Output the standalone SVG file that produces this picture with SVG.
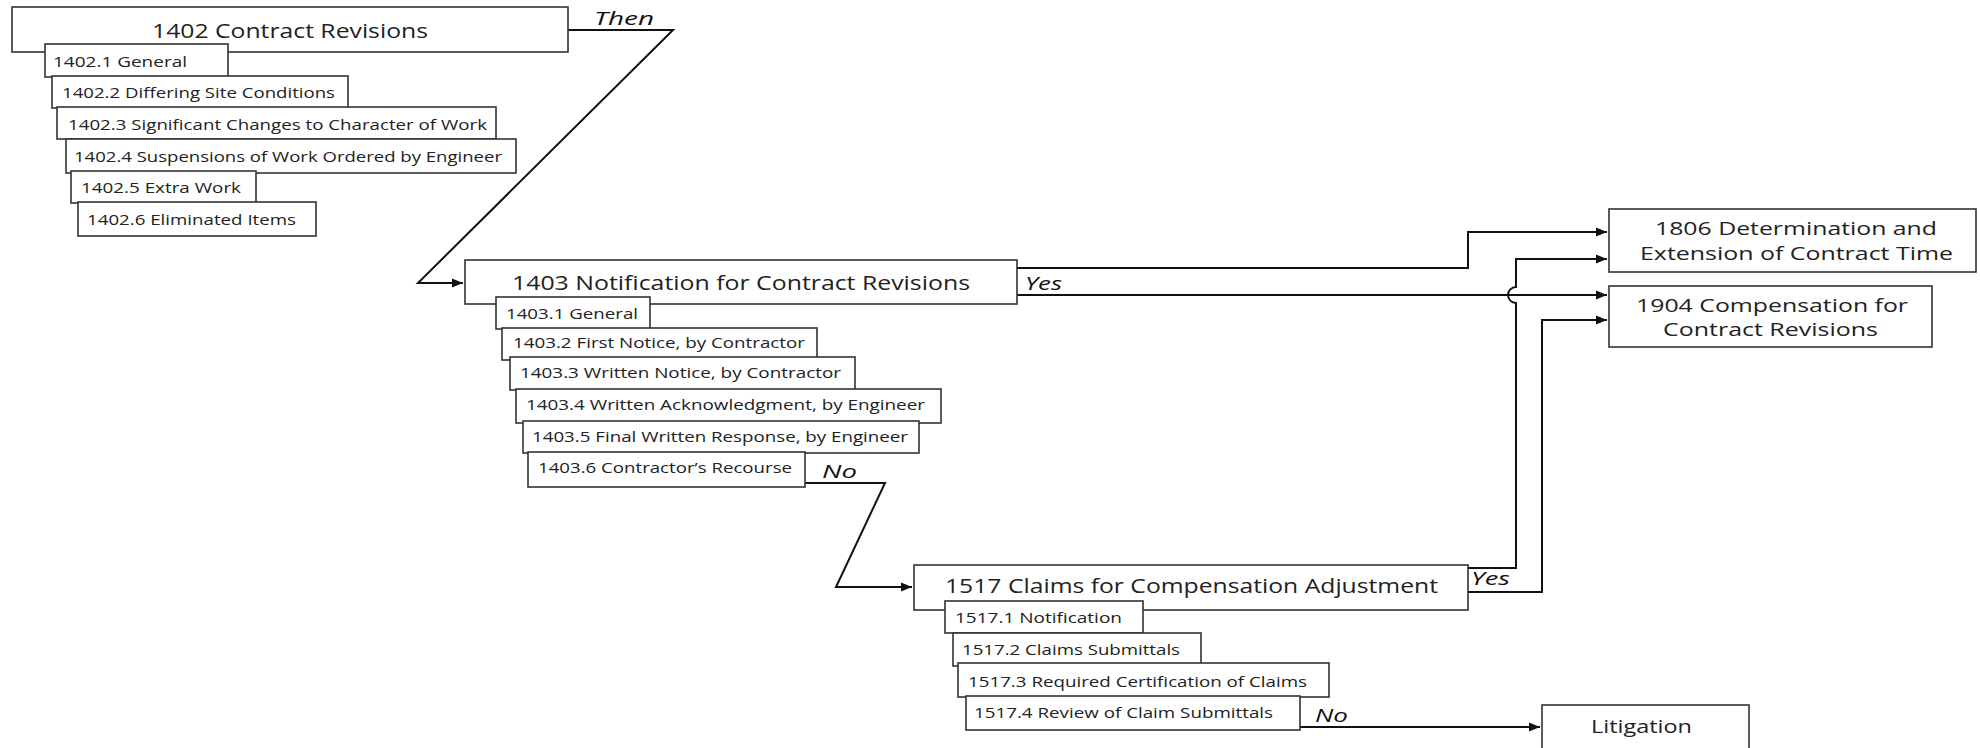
<svg xmlns="http://www.w3.org/2000/svg" width="1980" height="748" viewBox="0 0 1980 748">
<style>
.box{fill:#fff;stroke:#333;stroke-width:1.6}
.t{font-family:"Open Sans","Liberation Sans",sans-serif;fill:#222}
.main{font-size:20px}
.sub{font-size:15px}
.side{font-size:19px}
.lbl{font-family:"Open Sans","Liberation Sans",sans-serif;font-size:19px;font-style:italic;fill:#111}
.c{fill:none;stroke:#111;stroke-width:2;stroke-linejoin:miter}
</style>
<defs>
<marker id="ah" markerUnits="userSpaceOnUse" markerWidth="12" markerHeight="10" refX="11" refY="5" orient="auto">
<path d="M0,0.5 L11,5 L0,9.5 Z" fill="#111"/>
</marker>
</defs>
<rect width="1980" height="748" fill="#fff"/>
<g id="connectors">
<path class="c" d="M568,30 H673 L418,283 H463" marker-end="url(#ah)"/>
<path class="c" d="M1017,268 H1468 V232 H1607" marker-end="url(#ah)"/>
<path class="c" d="M1017,295 H1607" marker-end="url(#ah)"/>
<path class="c" d="M1468,568 H1516 V303 A8,8 0 0 1 1516,287 V259 H1607" marker-end="url(#ah)"/>
<path class="c" d="M1468,592 H1542 V320 H1607" marker-end="url(#ah)"/>
<path class="c" d="M805,483 H885 L836,587 H912" marker-end="url(#ah)"/>
<path class="c" d="M1300,727 H1540" marker-end="url(#ah)"/>
<text class="lbl" x="594" y="25" textLength="60" lengthAdjust="spacingAndGlyphs">Then</text>
<text class="lbl" x="1025" y="290" textLength="37" lengthAdjust="spacingAndGlyphs">Yes</text>
<text class="lbl" x="1471" y="585" textLength="39" lengthAdjust="spacingAndGlyphs">Yes</text>
<text class="lbl" x="822" y="478" textLength="35" lengthAdjust="spacingAndGlyphs">No</text>
<text class="lbl" x="1315" y="722" textLength="33" lengthAdjust="spacingAndGlyphs">No</text>
</g>
<g id="n1402">
<rect class="box" x="12" y="7" width="556" height="45"/>
<text class="t main" x="152" y="38" textLength="276" lengthAdjust="spacingAndGlyphs">1402 Contract Revisions</text>
</g>
<g id="n1402_1"><rect class="box" x="45" y="44" width="183" height="33"/><text class="t sub" x="53" y="67" textLength="134" lengthAdjust="spacingAndGlyphs">1402.1 General</text></g>
<g id="n1402_2"><rect class="box" x="52" y="76" width="296" height="32"/><text class="t sub" x="62" y="98" textLength="273" lengthAdjust="spacingAndGlyphs">1402.2 Differing Site Conditions</text></g>
<g id="n1402_3"><rect class="box" x="57" y="107" width="439" height="32"/><text class="t sub" x="68" y="130" textLength="419" lengthAdjust="spacingAndGlyphs">1402.3 Significant Changes to Character of Work</text></g>
<g id="n1402_4"><rect class="box" x="66" y="139" width="450" height="34"/><text class="t sub" x="74" y="162" textLength="428" lengthAdjust="spacingAndGlyphs">1402.4 Suspensions of Work Ordered by Engineer</text></g>
<g id="n1402_5"><rect class="box" x="71" y="171" width="185" height="32"/><text class="t sub" x="81" y="193" textLength="160" lengthAdjust="spacingAndGlyphs">1402.5 Extra Work</text></g>
<g id="n1402_6"><rect class="box" x="78" y="202" width="238" height="34"/><text class="t sub" x="87" y="225" textLength="209" lengthAdjust="spacingAndGlyphs">1402.6 Eliminated Items</text></g>
<g id="n1403">
<rect class="box" x="465" y="260" width="552" height="44"/>
<text class="t main" x="512" y="290" textLength="458" lengthAdjust="spacingAndGlyphs">1403 Notification for Contract Revisions</text>
</g>
<g id="n1403_1"><rect class="box" x="496" y="297" width="154" height="32"/><text class="t sub" x="506" y="319" textLength="132" lengthAdjust="spacingAndGlyphs">1403.1 General</text></g>
<g id="n1403_2"><rect class="box" x="502" y="328" width="315" height="32"/><text class="t sub" x="513" y="348" textLength="292" lengthAdjust="spacingAndGlyphs">1403.2 First Notice, by Contractor</text></g>
<g id="n1403_3"><rect class="box" x="510" y="357" width="345" height="33"/><text class="t sub" x="520" y="378" textLength="321" lengthAdjust="spacingAndGlyphs">1403.3 Written Notice, by Contractor</text></g>
<g id="n1403_4"><rect class="box" x="516" y="389" width="425" height="34"/><text class="t sub" x="526" y="410" textLength="399" lengthAdjust="spacingAndGlyphs">1403.4 Written Acknowledgment, by Engineer</text></g>
<g id="n1403_5"><rect class="box" x="523" y="421" width="396" height="32"/><text class="t sub" x="532" y="442" textLength="376" lengthAdjust="spacingAndGlyphs">1403.5 Final Written Response, by Engineer</text></g>
<g id="n1403_6"><rect class="box" x="528" y="452" width="277" height="35"/><text class="t sub" x="538" y="473" textLength="254" lengthAdjust="spacingAndGlyphs">1403.6 Contractor’s Recourse</text></g>
<g id="n1517">
<rect class="box" x="914" y="565" width="554" height="45"/>
<text class="t main" x="945" y="593" textLength="493" lengthAdjust="spacingAndGlyphs">1517 Claims for Compensation Adjustment</text>
</g>
<g id="n1517_1"><rect class="box" x="945" y="601" width="198" height="32"/><text class="t sub" x="955" y="623" textLength="167" lengthAdjust="spacingAndGlyphs">1517.1 Notification</text></g>
<g id="n1517_2"><rect class="box" x="953" y="633" width="248" height="33"/><text class="t sub" x="962" y="655" textLength="218" lengthAdjust="spacingAndGlyphs">1517.2 Claims Submittals</text></g>
<g id="n1517_3"><rect class="box" x="958" y="663" width="371" height="34"/><text class="t sub" x="968" y="687" textLength="339" lengthAdjust="spacingAndGlyphs">1517.3 Required Certification of Claims</text></g>
<g id="n1517_4"><rect class="box" x="966" y="696" width="334" height="34"/><text class="t sub" x="974" y="718" textLength="299" lengthAdjust="spacingAndGlyphs">1517.4 Review of Claim Submittals</text></g>
<g id="n1806">
<rect class="box" x="1609" y="209" width="367" height="63"/>
<text class="t side" x="1655" y="235" textLength="282" lengthAdjust="spacingAndGlyphs">1806 Determination and</text>
<text class="t side" x="1640" y="260" textLength="313" lengthAdjust="spacingAndGlyphs">Extension of Contract Time</text>
</g>
<g id="n1904">
<rect class="box" x="1609" y="286" width="323" height="61"/>
<text class="t side" x="1636" y="312" textLength="272" lengthAdjust="spacingAndGlyphs">1904 Compensation for</text>
<text class="t side" x="1663" y="336" textLength="215" lengthAdjust="spacingAndGlyphs">Contract Revisions</text>
</g>
<g id="litigation">
<rect class="box" x="1542" y="705" width="207" height="60"/>
<text class="t side" x="1591" y="733" textLength="101" lengthAdjust="spacingAndGlyphs">Litigation</text>
</g>
</svg>
